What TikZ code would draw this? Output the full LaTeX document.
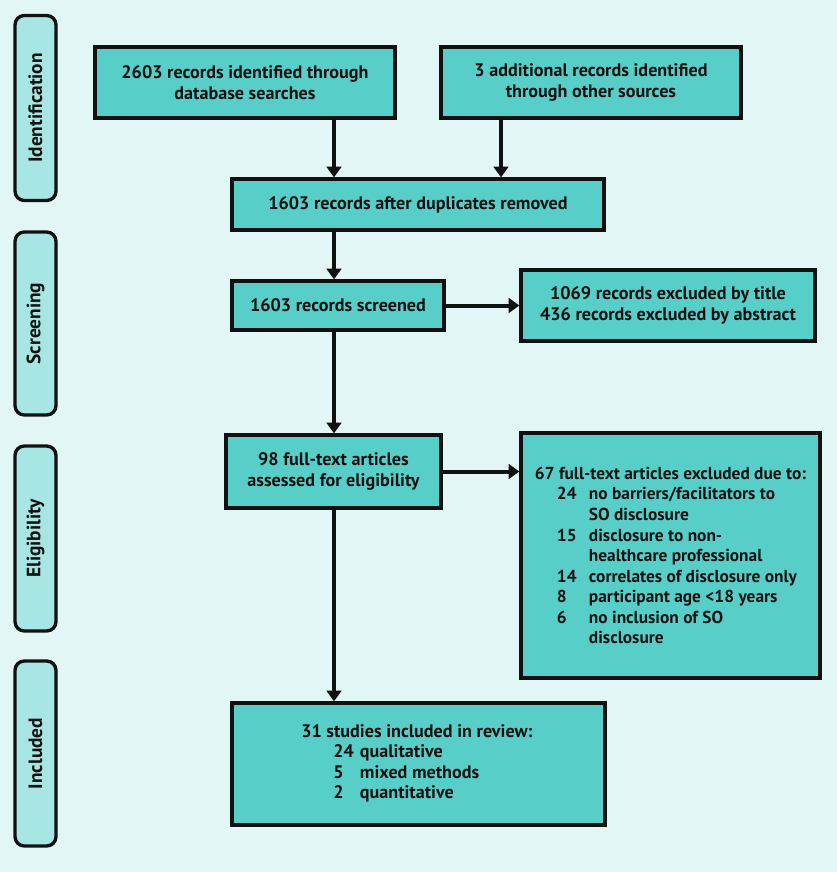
\documentclass[tikz,border=0pt]{standalone}
\usepackage{fontspec}
\setmainfont{PT Sans}
\usetikzlibrary{arrows.meta,calc}
\definecolor{bgc}{HTML}{E2F6F5}
\definecolor{boxc}{HTML}{57CFC8}
\definecolor{sidec}{HTML}{A7E6E3}
\definecolor{inkc}{HTML}{111111}
\tikzset{
  box/.style={draw=inkc, fill=boxc, line width=2.5pt, rectangle, inner sep=0pt,
    font=\bfseries\fontsize{13.6}{15.4}\selectfont, text=inkc, align=center},
  side/.style={draw=inkc, fill=sidec, line width=2.5pt, rounded corners=7pt, inner sep=0pt},
  sidetext/.style={rotate=90, font=\bfseries\fontsize{14.5}{16}\selectfont, text=inkc},
  arr/.style={draw=inkc, line width=3pt, -{Triangle[length=8pt,width=11pt]}}
}
\newcommand{\numcol}[2]{\hspace*{16.5pt}\makebox[24pt][l]{#1}#2}
\newcommand{\numcolb}[2]{\hspace*{24pt}\makebox[20pt][l]{#1}#2}
\begin{document}
\begin{tikzpicture}[x=0.75pt,y=-0.75pt]
\fill[bgc] (0,0) rectangle (837,872);
\useasboundingbox (0,0) rectangle (837,872);
% side labels
\node[side, minimum width=41*0.75pt, minimum height=185*0.75pt] (sid) at (35.5,108) {};
\node[sidetext] (sidt) at (sid.center) {Identification};
\node[side, minimum width=41*0.75pt, minimum height=183*0.75pt] (ssc) at (35.5,323.5) {};
\node[sidetext] (ssct) at (ssc.center) {Screening};
\node[side, minimum width=41*0.75pt, minimum height=185*0.75pt] (sel) at (35.5,538.5) {};
\node[sidetext] (selt) at (sel.center) {Eligibility};
\node[side, minimum width=41*0.75pt, minimum height=185*0.75pt] (sin) at (35.5,753.5) {};
\node[sidetext] (sint) at (sin.center) {Included};
% main boxes
\node[box, minimum width=300*0.75pt, minimum height=71*0.75pt] (b1) at (245,82.5)
  {2603 records identified through\\database searches};
\node[box, minimum width=300*0.75pt, minimum height=71*0.75pt] (b2) at (591,82.5)
  {3 additional records identified\\through other sources};
\node[box, minimum width=372*0.75pt, minimum height=51*0.75pt] (b3) at (418,204.5)
  {1603 records after duplicates removed};
\node[box, minimum width=212*0.75pt, minimum height=49*0.75pt] (b4) at (338,305.5)
  {1603 records screened};
\node[box, minimum width=294*0.75pt, minimum height=71*0.75pt] (b5) at (668,305.5)
  {1069 records excluded by title\\436 records excluded by abstract};
\node[box, minimum width=215*0.75pt, minimum height=73*0.75pt] (b6) at (333.5,471.5)
  {98 full-text articles\\assessed for eligibility};
\node[box, align=left, font=\bfseries\fontsize{13}{15.4}\selectfont, minimum width=299*0.75pt, minimum height=245*0.75pt] (b7) at (670.5,555.5)
  {67 full-text articles excluded due to:\\
   \numcol{24}{no barriers/facilitators to}\\
   \numcol{}{SO disclosure}\\
   \numcol{15}{disclosure to non-}\\
   \numcol{}{healthcare professional}\\
   \numcol{14}{correlates of disclosure only}\\
   \numcol{8}{participant age <18 years}\\
   \numcol{6}{no inclusion of SO}\\
   \numcol{}{disclosure}};
\node[box, minimum width=373*0.75pt, minimum height=122*0.75pt] (b8) at (418.5,764) {};
\node[font=\bfseries\fontsize{13.6}{15.4}\selectfont, text=inkc, align=left, anchor=west, inner sep=0pt] (b8t) at (301,763.5)
  {31 studies included in review:\\
   \numcolb{24}{qualitative}\\
   \numcolb{5}{mixed methods}\\
   \numcolb{2}{quantitative}};
% helper columns
\coordinate (spine) at (334,0);
\coordinate (col2) at (501,0);
% connectors
\draw[arr] (b1.south -| spine) -- (b3.north -| spine);
\draw[arr] (b2.south -| col2) -- (b3.north -| col2);
\draw[arr] (b3.south -| spine) -- (b4.north -| spine);
\draw[arr] (b4.east) -- (b5.west |- b4.east);
\draw[arr] (b4.south -| spine) -- (b6.north -| spine);
\draw[arr] (b6.east) -- (b7.west |- b6.east);
\draw[arr] (b6.south -| spine) -- (b8.north -| spine);
\end{tikzpicture}
\end{document}
